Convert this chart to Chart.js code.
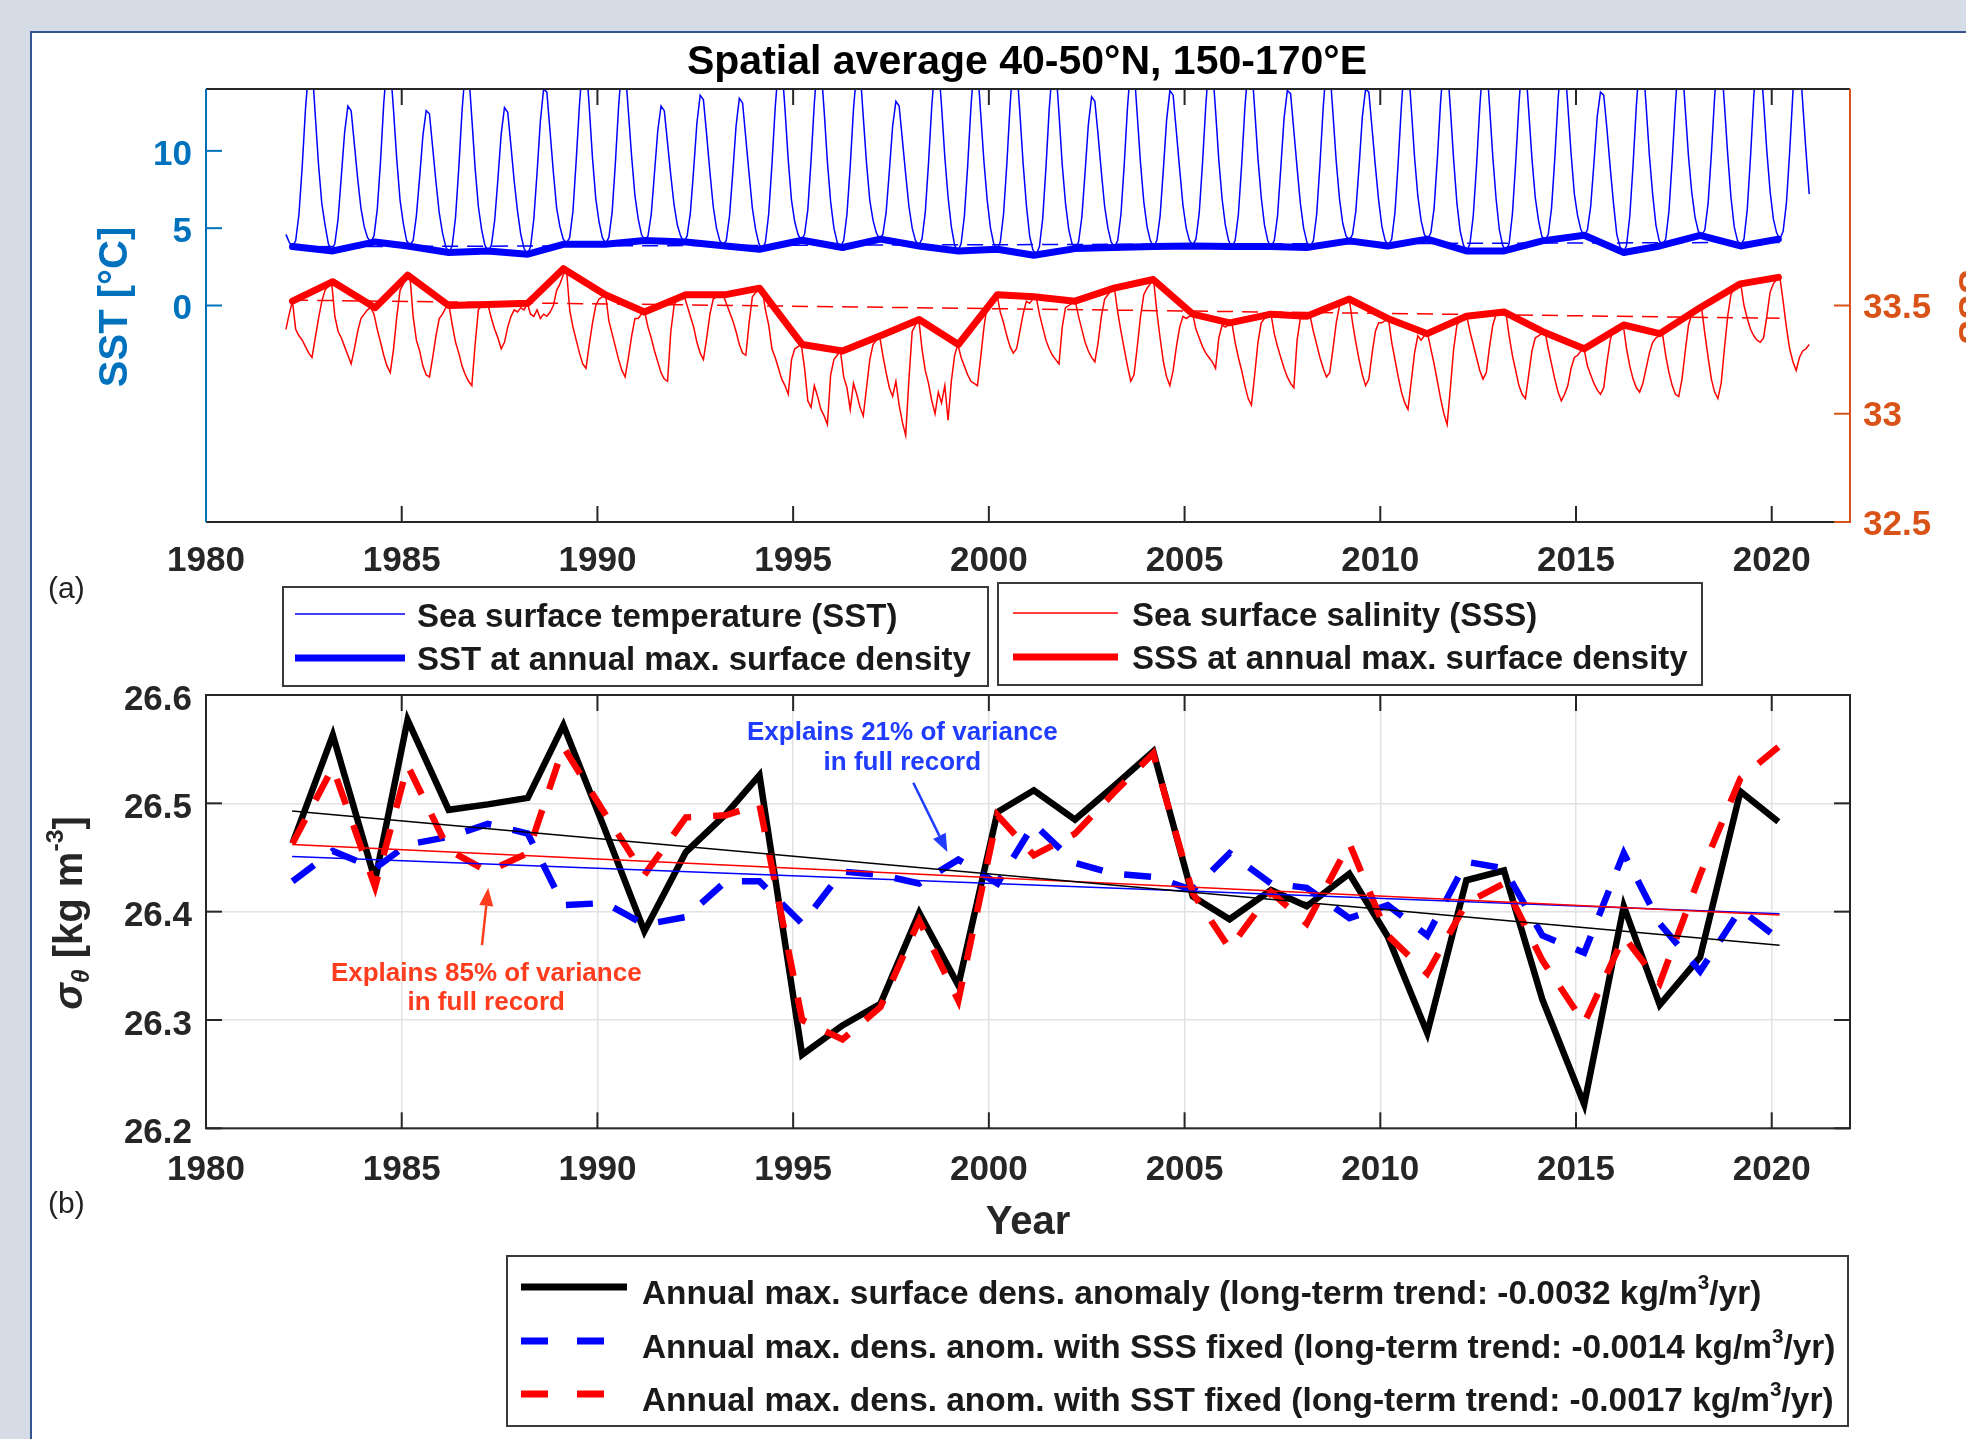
<!DOCTYPE html>
<html>
<head>
<meta charset="utf-8">
<script src="https://cdn.jsdelivr.net/npm/chart.js@4.4.1/dist/chart.umd.min.js"></script>
<style>
  html, body { margin: 0; padding: 0; }
  body {
    width: 1966px; height: 1439px; position: relative; overflow: hidden;
    background: #d5dce6;
    font-family: "Liberation Sans", Arial, Helvetica, sans-serif;
    color: #1a1a1a;
  }
  #sheet {
    position: absolute; left: 30px; top: 31px; width: 1960px; height: 1420px;
    background: #fff; border-left: 2px solid #34558f; border-top: 2px solid #34558f;
  }
  canvas { position: absolute; left: 0; }
  #deco { position: absolute; left: 0; top: 0; }
  .t { position: absolute; white-space: nowrap; line-height: 1; transform: translateY(-50%); }
  .c { transform: translate(-50%, -50%); }
  .rot { position: absolute; white-space: nowrap; line-height: 1; transform: translate(-50%, -50%) rotate(-90deg); }
  .b { font-weight: bold; }
  sup { font-size: 0.62em; vertical-align: 0.75em; line-height: 0; }
  sub { font-size: 0.62em; vertical-align: -0.3em; line-height: 0; }
</style>
</head>
<body>
<div id="sheet"></div>
<canvas id="topChart" width="1966" height="600" style="top:0"></canvas>
<canvas id="botChart" width="1966" height="839" style="top:600px"></canvas>

<svg id="deco" width="1966" height="1439">
  <!-- legend (a), left box -->
  <rect x="283" y="587" width="705" height="99" fill="#fff" stroke="#3a3a3a" stroke-width="2"/>
  <line x1="295" y1="614" x2="405" y2="614" stroke="#0000ff" stroke-width="1.5"/>
  <line x1="295" y1="658" x2="405" y2="658" stroke="#0000ff" stroke-width="7"/>
  <!-- legend (a), right box -->
  <rect x="998" y="583" width="704" height="102" fill="#fff" stroke="#3a3a3a" stroke-width="2"/>
  <line x1="1013" y1="613" x2="1118" y2="613" stroke="#ff0000" stroke-width="1.5"/>
  <line x1="1013" y1="657" x2="1118" y2="657" stroke="#ff0000" stroke-width="7"/>
  <!-- legend (b) -->
  <rect x="507" y="1256" width="1341" height="170" fill="#fff" stroke="#3a3a3a" stroke-width="2"/>
  <line x1="521" y1="1287" x2="627" y2="1287" stroke="#000" stroke-width="7"/>
  <line x1="521" y1="1341" x2="607" y2="1341" stroke="#0000ff" stroke-width="7" stroke-dasharray="27 29"/>
  <line x1="521" y1="1394" x2="607" y2="1394" stroke="#ff0000" stroke-width="7" stroke-dasharray="27 29"/>
</svg>

<div class="t c b" style="left:1027px; top:60px; font-size:41px; color:#000;">Spatial average 40-50°N, 150-170°E</div>
<div class="rot b" style="left:113px; top:307px; font-size:40px; color:#0072BD;">SST [°C]</div>
<div class="rot b" style="left:1973px; top:307px; font-size:38px; color:#D95319;">SSS</div>
<div class="t" style="left:48px; top:588px; font-size:30px; color:#222;">(a)</div>
<div class="t" style="left:48px; top:1203px; font-size:30px; color:#222;">(b)</div>
<div class="t c b" style="left:1028px; top:1220px; font-size:40px; color:#262626;">Year</div>
<div class="rot b" style="left:68px; top:913px; font-size:40px; color:#262626;"><i>σ</i><sub><i>θ</i></sub> [kg m<sup>-3</sup>]</div>

<div class="t b" style="left:417px; top:615px; font-size:33px;">Sea surface temperature (SST)</div>
<div class="t b" style="left:417px; top:658px; font-size:33px;">SST at annual max. surface density</div>
<div class="t b" style="left:1132px; top:614px; font-size:33px;">Sea surface salinity (SSS)</div>
<div class="t b" style="left:1132px; top:657px; font-size:33px;">SSS at annual max. surface density</div>
<div class="t b" style="left:642px; top:1293px; font-size:33.4px;">Annual max. surface dens. anomaly (long-term trend: -0.0032 kg/m<sup>3</sup>/yr)</div>
<div class="t b" style="left:642px; top:1347px; font-size:33.4px;">Annual max. dens. anom. with SSS fixed (long-term trend: -0.0014 kg/m<sup>3</sup>/yr)</div>
<div class="t b" style="left:642px; top:1400px; font-size:33.4px;">Annual max. dens. anom. with SST fixed (long-term trend: -0.0017 kg/m<sup>3</sup>/yr)</div>

<script>
// ---------- data ----------
const firstYear = 1982;
const xTicks = [1980, 1985, 1990, 1995, 2000, 2005, 2010, 2015, 2020];
const sstTicks = [0, 5, 10];
const sssTicks = [32.5, 33, 33.5];
const sigmaTicks = [26.2, 26.3, 26.4, 26.5, 26.6];

// decimal year at which the annual max. surface density occurs
const maxDensTime = [1982.21, 1983.24, 1984.32, 1985.15, 1986.20, 1987.20, 1988.22, 1989.13, 1990.20, 1991.20,
  1992.26, 1993.28, 1994.14, 1995.23, 1996.26, 1997.23, 1998.22, 1999.22, 2000.22, 2001.15,
  2002.20, 2003.20, 2004.20, 2005.21, 2006.15, 2007.21, 2008.12, 2009.21, 2010.19, 2011.20,
  2012.20, 2013.16, 2014.14, 2015.21, 2016.22, 2017.14, 2018.17, 2019.20, 2020.17];

// SST / SSS at annual max. surface density (thick lines, panel a)
const sstAtMax = [3.81, 3.53, 4.11, 3.85, 3.43, 3.53, 3.32, 3.96, 3.96, 4.20,
  4.11, 3.85, 3.64, 4.22, 3.75, 4.29, 3.85, 3.53, 3.64, 3.25,
  3.68, 3.75, 3.81, 3.85, 3.81, 3.81, 3.75, 4.18, 3.85, 4.29,
  3.53, 3.53, 4.18, 4.54, 3.43, 3.85, 4.54, 3.85, 4.29];
const sssAtMax = [33.52, 33.61, 33.49, 33.64, 33.50, 33.505, 33.51, 33.67, 33.55, 33.47,
  33.55, 33.55, 33.58, 33.32, 33.29, 33.36, 33.435, 33.32, 33.55, 33.54,
  33.52, 33.58, 33.62, 33.46, 33.42, 33.46, 33.45, 33.53, 33.44, 33.37,
  33.45, 33.47, 33.38, 33.30, 33.41, 33.37, 33.49, 33.60, 33.63];

// long-term trend end points (dashed, panel a)
const trendYears = [1982.2, 2020.2];
const sstTrend = [3.80, 4.08];
const sssTrend = [33.525, 33.441];

// monthly SST [degC], one row per year (Jan..Dec), 1982-2020
const sstMonthly = [
  [4.6, 4.1, 3.8, 4.2, 5.9, 9.0, 12.7, 15.4, 15.6, 12.3, 9.1, 6.6],
  [5.2, 4.0, 3.5, 4.0, 5.6, 8.4, 11.2, 12.9, 12.6, 10.4, 8.2, 6.3],
  [5.1, 4.4, 4.1, 4.5, 6.2, 9.3, 13.1, 15.7, 15.5, 12.6, 9.4, 6.8],
  [5.3, 4.2, 3.9, 4.2, 5.8, 8.3, 11.0, 12.6, 12.4, 10.2, 8.0, 6.0],
  [4.7, 3.8, 3.4, 3.9, 5.7, 8.9, 12.6, 15.3, 15.2, 12.1, 8.9, 6.4],
  [4.9, 3.9, 3.5, 3.9, 5.5, 8.2, 11.1, 12.8, 12.5, 10.3, 8.0, 6.1],
  [4.6, 3.7, 3.3, 3.8, 5.6, 8.6, 11.9, 14.0, 13.8, 11.2, 8.6, 6.3],
  [5.1, 4.3, 4.0, 4.4, 6.1, 9.4, 13.0, 15.8, 15.9, 12.8, 9.5, 6.9],
  [5.4, 4.4, 4.0, 4.4, 6.0, 9.2, 12.9, 15.6, 15.4, 12.5, 9.6, 7.1],
  [5.6, 4.6, 4.2, 4.5, 5.9, 8.6, 11.3, 12.9, 12.6, 10.5, 8.4, 6.5],
  [5.2, 4.5, 4.1, 4.5, 6.0, 8.8, 11.8, 13.6, 13.3, 11.0, 8.6, 6.4],
  [5.0, 4.2, 3.9, 4.2, 5.8, 8.6, 11.6, 13.4, 13.1, 10.8, 8.5, 6.3],
  [4.9, 4.0, 3.6, 4.1, 5.9, 9.1, 12.8, 15.5, 15.7, 12.7, 9.4, 6.8],
  [5.4, 4.6, 4.2, 4.6, 6.2, 9.4, 13.1, 15.9, 15.6, 12.6, 9.3, 6.7],
  [5.0, 4.1, 3.8, 4.2, 5.9, 9.0, 12.7, 15.2, 15.3, 12.2, 9.2, 6.8],
  [5.5, 4.7, 4.3, 4.6, 6.0, 8.7, 11.6, 13.2, 12.9, 10.7, 8.5, 6.4],
  [5.0, 4.2, 3.9, 4.3, 6.0, 9.2, 12.9, 15.6, 15.8, 12.9, 9.6, 7.0],
  [5.1, 3.9, 3.5, 4.0, 5.8, 9.0, 12.8, 15.7, 15.5, 12.4, 9.3, 6.8],
  [5.0, 4.0, 3.6, 4.1, 5.9, 9.1, 12.9, 15.9, 15.6, 12.5, 9.2, 6.5],
  [4.5, 3.6, 3.3, 3.8, 5.6, 8.9, 12.7, 15.4, 15.5, 12.4, 9.1, 6.6],
  [4.9, 4.0, 3.7, 4.1, 5.7, 8.6, 11.7, 13.5, 13.2, 11.0, 8.6, 6.4],
  [5.0, 4.1, 3.8, 4.2, 5.9, 9.1, 12.8, 15.6, 15.4, 12.3, 9.2, 6.7],
  [5.1, 4.2, 3.8, 4.2, 5.8, 8.8, 12.0, 13.9, 13.6, 11.2, 8.8, 6.5],
  [5.0, 4.2, 3.9, 4.3, 6.0, 9.2, 12.9, 15.8, 15.6, 12.6, 9.4, 6.9],
  [5.2, 4.2, 3.8, 4.2, 5.9, 9.1, 12.8, 15.5, 15.7, 12.7, 9.5, 7.0],
  [5.2, 4.2, 3.8, 4.2, 5.8, 8.9, 12.1, 13.9, 13.7, 11.3, 8.9, 6.6],
  [5.0, 4.1, 3.8, 4.2, 5.9, 9.1, 12.8, 15.6, 15.4, 12.4, 9.3, 6.9],
  [5.3, 4.5, 4.2, 4.6, 6.1, 9.0, 12.2, 14.0, 13.8, 11.4, 9.0, 6.8],
  [5.1, 4.2, 3.9, 4.3, 6.0, 9.3, 13.0, 16.0, 15.8, 12.8, 9.6, 7.1],
  [5.5, 4.6, 4.3, 4.7, 6.3, 9.5, 13.2, 15.9, 15.7, 12.7, 9.4, 6.6],
  [4.8, 3.9, 3.5, 4.0, 5.8, 9.0, 12.8, 15.8, 16.0, 12.9, 9.6, 6.9],
  [4.9, 3.9, 3.5, 4.0, 5.9, 9.2, 13.0, 15.9, 15.7, 12.6, 9.5, 7.0],
  [5.5, 4.5, 4.2, 4.6, 6.3, 9.5, 13.3, 16.1, 15.9, 12.9, 9.8, 7.2],
  [5.8, 4.9, 4.5, 4.9, 6.4, 9.2, 12.2, 13.8, 13.6, 11.4, 8.9, 6.6],
  [4.6, 3.8, 3.4, 3.9, 5.8, 9.1, 12.9, 15.8, 15.9, 12.9, 9.7, 7.2],
  [5.2, 4.2, 3.9, 4.3, 6.1, 9.4, 13.1, 16.0, 15.8, 12.7, 9.6, 7.3],
  [5.7, 4.8, 4.5, 4.9, 6.6, 9.8, 13.5, 16.2, 16.0, 13.0, 9.8, 7.0],
  [5.1, 4.2, 3.9, 4.3, 6.2, 9.6, 13.5, 16.4, 16.2, 13.2, 10.0, 7.4],
  [5.6, 4.7, 4.3, 4.8, 6.6, 9.9, 13.8, 16.5, 16.3, 13.1, 10.0, 7.2]
];

// monthly SSS [psu], one row per year (Jan..Dec), 1982-2020
const sssMonthly = [
  [33.39, 33.46, 33.52, 33.39, 33.36, 33.34, 33.31, 33.28, 33.26, 33.35, 33.44, 33.52],
  [33.57, 33.59, 33.61, 33.45, 33.38, 33.35, 33.31, 33.27, 33.23, 33.30, 33.38, 33.44],
  [33.46, 33.48, 33.49, 33.46, 33.39, 33.33, 33.27, 33.22, 33.19, 33.30, 33.45, 33.57],
  [33.60, 33.63, 33.64, 33.45, 33.34, 33.29, 33.22, 33.18, 33.17, 33.26, 33.36, 33.44],
  [33.46, 33.49, 33.50, 33.41, 33.33, 33.28, 33.22, 33.18, 33.15, 33.13, 33.32, 33.48],
  [33.50, 33.49, 33.50, 33.44, 33.39, 33.35, 33.30, 33.33, 33.40, 33.45, 33.48, 33.47],
  [33.49, 33.48, 33.51, 33.46, 33.45, 33.48, 33.44, 33.46, 33.45, 33.47, 33.50, 33.57],
  [33.60, 33.64, 33.67, 33.48, 33.40, 33.34, 33.28, 33.23, 33.21, 33.32, 33.42, 33.50],
  [33.53, 33.54, 33.55, 33.43, 33.37, 33.31, 33.25, 33.20, 33.17, 33.26, 33.36, 33.44],
  [33.44, 33.46, 33.47, 33.40, 33.35, 33.29, 33.24, 33.19, 33.16, 33.15, 33.38, 33.50],
  [33.53, 33.54, 33.55, 33.50, 33.45, 33.40, 33.33, 33.28, 33.25, 33.35, 33.46, 33.53],
  [33.54, 33.55, 33.55, 33.51, 33.47, 33.43, 33.38, 33.32, 33.28, 33.27, 33.42, 33.54],
  [33.56, 33.57, 33.58, 33.48, 33.41, 33.30, 33.26, 33.21, 33.16, 33.13, 33.09, 33.25],
  [33.30, 33.31, 33.32, 33.21, 33.06, 33.03, 33.13, 33.08, 33.02, 32.99, 32.95, 33.18],
  [33.25, 33.27, 33.29, 33.17, 33.12, 33.02, 33.14, 33.09, 33.03, 32.99, 33.12, 33.25],
  [33.32, 33.34, 33.36, 33.27, 33.19, 33.12, 33.08, 33.15, 33.04, 32.96, 32.90, 33.16],
  [33.38, 33.41, 33.44, 33.30, 33.20, 33.14, 33.06, 33.00, 33.10, 33.05, 33.13, 32.97],
  [33.15, 33.27, 33.32, 33.26, 33.22, 33.18, 33.15, 33.14, 33.13, 33.26, 33.40, 33.50],
  [33.53, 33.54, 33.55, 33.47, 33.42, 33.36, 33.31, 33.28, 33.30, 33.38, 33.46, 33.52],
  [33.51, 33.53, 33.54, 33.46, 33.40, 33.34, 33.30, 33.27, 33.25, 33.23, 33.40, 33.49],
  [33.50, 33.51, 33.52, 33.45, 33.39, 33.33, 33.29, 33.26, 33.24, 33.33, 33.45, 33.53],
  [33.55, 33.57, 33.58, 33.47, 33.38, 33.30, 33.22, 33.15, 33.18, 33.31, 33.45, 33.55],
  [33.58, 33.60, 33.62, 33.47, 33.35, 33.24, 33.17, 33.13, 33.20, 33.31, 33.40, 33.45],
  [33.44, 33.45, 33.46, 33.39, 33.35, 33.31, 33.28, 33.26, 33.24, 33.21, 33.35, 33.41],
  [33.40, 33.41, 33.42, 33.33, 33.26, 33.20, 33.13, 33.07, 33.04, 33.18, 33.33, 33.42],
  [33.44, 33.45, 33.46, 33.37, 33.31, 33.26, 33.21, 33.17, 33.14, 33.12, 33.34, 33.44],
  [33.44, 33.45, 33.45, 33.38, 33.32, 33.26, 33.21, 33.17, 33.19, 33.30, 33.42, 33.50],
  [33.51, 33.52, 33.53, 33.42, 33.33, 33.25, 33.18, 33.13, 33.16, 33.28, 33.38, 33.42],
  [33.42, 33.43, 33.44, 33.33, 33.25, 33.17, 33.10, 33.05, 33.02, 33.15, 33.28, 33.36],
  [33.34, 33.36, 33.37, 33.30, 33.23, 33.15, 33.07, 33.00, 32.95, 33.12, 33.30, 33.41],
  [33.43, 33.44, 33.45, 33.38, 33.32, 33.26, 33.20, 33.16, 33.19, 33.31, 33.41, 33.46],
  [33.46, 33.47, 33.47, 33.36, 33.27, 33.20, 33.13, 33.09, 33.07, 33.18, 33.29, 33.35],
  [33.36, 33.37, 33.38, 33.30, 33.23, 33.16, 33.10, 33.06, 33.09, 33.13, 33.21, 33.26],
  [33.27, 33.29, 33.30, 33.22, 33.18, 33.14, 33.11, 33.09, 33.12, 33.24, 33.34, 33.39],
  [33.39, 33.40, 33.41, 33.30, 33.22, 33.16, 33.12, 33.10, 33.14, 33.21, 33.28, 33.33],
  [33.35, 33.36, 33.37, 33.27, 33.19, 33.13, 33.09, 33.08, 33.16, 33.29, 33.41, 33.46],
  [33.47, 33.48, 33.49, 33.37, 33.26, 33.16, 33.10, 33.07, 33.14, 33.30, 33.45, 33.55],
  [33.58, 33.59, 33.60, 33.50, 33.44, 33.39, 33.36, 33.34, 33.33, 33.35, 33.45, 33.56],
  [33.60, 33.62, 33.63, 33.52, 33.40, 33.30, 33.24, 33.20, 33.26, 33.29, 33.30, 33.32]
];

// panel b: annual max. surface density anomaly [kg m-3]
const sigmaAnom = [26.463, 26.563, 26.429, 26.577, 26.494, 26.499, 26.505, 26.572, 26.475, 26.382,
  26.455, 26.490, 26.526, 26.268, 26.295, 26.315, 26.399, 26.332, 26.492, 26.512,
  26.485, 26.516, 26.548, 26.414, 26.393, 26.420, 26.405, 26.435, 26.377, 26.288,
  26.429, 26.438, 26.319, 26.222, 26.405, 26.314, 26.358, 26.511, 26.483];
const sigmaSSSFixed = [26.428, 26.456, 26.440, 26.462, 26.469, 26.481, 26.472, 26.406, 26.408, 26.388,
  26.395, 26.428, 26.428, 26.389, 26.437, 26.434, 26.426, 26.448, 26.426, 26.481,
  26.445, 26.435, 26.432, 26.420, 26.454, 26.426, 26.422, 26.394, 26.406, 26.378,
  26.446, 26.440, 26.378, 26.362, 26.454, 26.389, 26.345, 26.402, 26.375];
const sigmaSSTFixed = [26.463, 26.533, 26.423, 26.535, 26.457, 26.437, 26.454, 26.552, 26.490, 26.434,
  26.487, 26.489, 26.499, 26.300, 26.282, 26.312, 26.392, 26.318, 26.489, 26.452,
  26.472, 26.510, 26.546, 26.417, 26.366, 26.418, 26.389, 26.463, 26.378, 26.343,
  26.408, 26.426, 26.355, 26.297, 26.377, 26.334, 26.434, 26.523, 26.552];
const sigmaTrend = [26.493, 26.369];
const sssFixedTrend = [26.451, 26.398];
const sstFixedTrend = [26.462, 26.397];

// ---------- helpers ----------
const FONT = '"Liberation Sans", Arial, Helvetica, sans-serif';
const DARK = '#262626';
const SST_AXIS = '#0072BD';
const SSS_AXIS = '#D95319';
const tickFont = { family: FONT, size: 35, weight: 'bold' };

const pts = (xs, ys) => xs.map((x, i) => ({ x, y: ys[i] }));
const monthly = rows => rows.flatMap((row, i) => row.map((v, m) => ({ x: firstYear + i + (m + 0.5) / 12, y: v })));
const fixTicks = list => s => { s.ticks = list.map(v => ({ value: v })); };
const label = v => String(v);

function seg(ctx, x1, y1, x2, y2, color) {
  ctx.strokeStyle = color;
  ctx.beginPath();
  ctx.moveTo(x1, y1);
  ctx.lineTo(x2, y2);
  ctx.stroke();
}

const TL = 16; // tick length, drawn inward like MATLAB

const topFrame = {
  id: 'topFrame',
  afterDatasetsDraw(chart) {
    const { ctx, chartArea: a, scales } = chart;
    ctx.save();
    ctx.lineWidth = 2;
    seg(ctx, a.left, a.top, a.right, a.top, DARK);
    seg(ctx, a.left, a.bottom, a.right, a.bottom, DARK);
    xTicks.forEach(v => {
      const px = scales.x.getPixelForValue(v);
      seg(ctx, px, a.bottom, px, a.bottom - TL, DARK);
      seg(ctx, px, a.top, px, a.top + TL, DARK);
    });
    seg(ctx, a.left, a.top, a.left, a.bottom, SST_AXIS);
    sstTicks.forEach(v => {
      const py = scales.ySST.getPixelForValue(v);
      seg(ctx, a.left, py, a.left + TL, py, SST_AXIS);
    });
    seg(ctx, a.right, a.top, a.right, a.bottom + 1, SSS_AXIS);
    sssTicks.forEach(v => {
      const py = scales.ySSS.getPixelForValue(v);
      seg(ctx, a.right, py, a.right - TL, py, SSS_AXIS);
    });
    ctx.restore();
  }
};

const botFrame = {
  id: 'botFrame',
  afterDatasetsDraw(chart) {
    const { ctx, chartArea: a, scales } = chart;
    ctx.save();
    ctx.lineWidth = 2;
    ctx.strokeStyle = DARK;
    ctx.strokeRect(a.left, a.top, a.right - a.left, a.bottom - a.top);
    xTicks.forEach(v => {
      const px = scales.x.getPixelForValue(v);
      seg(ctx, px, a.bottom, px, a.bottom - TL, DARK);
      seg(ctx, px, a.top, px, a.top + TL, DARK);
    });
    sigmaTicks.forEach(v => {
      const py = scales.y.getPixelForValue(v);
      seg(ctx, a.left, py, a.left + TL, py, DARK);
      seg(ctx, a.right, py, a.right - TL, py, DARK);
    });
    ctx.restore();
  }
};

// text notes with arrows, placed in data coordinates
const notes = [
  { color: '#ff3c1e', x: 1987.16, lines: [[26.343, 'Explains 85% of variance'], [26.316, 'in full record']],
    arrow: [1987.05, 26.369, 1987.21, 26.422] },
  { color: '#1f3cff', x: 1997.79, lines: [[26.565, 'Explains 21% of variance'], [26.537, 'in full record']],
    arrow: [1998.07, 26.519, 1998.94, 26.455] }
];

const notePlugin = {
  id: 'notes',
  afterDatasetsDraw(chart) {
    const { ctx, scales: { x, y } } = chart;
    ctx.save();
    ctx.font = 'bold 26px ' + FONT;
    ctx.textAlign = 'center';
    ctx.textBaseline = 'middle';
    notes.forEach(n => {
      ctx.fillStyle = n.color;
      n.lines.forEach(([v, s]) => ctx.fillText(s, x.getPixelForValue(n.x), y.getPixelForValue(v)));
      const x1 = x.getPixelForValue(n.arrow[0]), y1 = y.getPixelForValue(n.arrow[1]);
      const x2 = x.getPixelForValue(n.arrow[2]), y2 = y.getPixelForValue(n.arrow[3]);
      const ang = Math.atan2(y2 - y1, x2 - x1);
      const head = 18, half = 7;
      const bx = x2 - head * Math.cos(ang), by = y2 - head * Math.sin(ang);
      ctx.lineWidth = 2.5;
      seg(ctx, x1, y1, bx, by, n.color);
      ctx.beginPath();
      ctx.moveTo(x2, y2);
      ctx.lineTo(bx + half * Math.sin(ang), by - half * Math.cos(ang));
      ctx.lineTo(bx - half * Math.sin(ang), by + half * Math.cos(ang));
      ctx.closePath();
      ctx.fill();
    });
    ctx.restore();
  }
};

const baseOptions = {
  responsive: false,
  animation: false,
  devicePixelRatio: 1,
  events: [],
  elements: { point: { radius: 0 }, line: { tension: 0 } },
  plugins: { legend: { display: false }, tooltip: { enabled: false }, title: { display: false } }
};

// ---------- panel (a) ----------
new Chart(document.getElementById('topChart'), {
  type: 'line',
  data: {
    datasets: [
      { data: pts(maxDensTime, sssAtMax), yAxisID: 'ySSS', borderColor: '#ff0000', borderWidth: 7, borderJoinStyle: 'round', borderCapStyle: 'round', order: 1 },
      { data: pts(maxDensTime, sstAtMax), yAxisID: 'ySST', borderColor: '#0000ff', borderWidth: 7, borderJoinStyle: 'round', borderCapStyle: 'round', order: 2 },
      { data: monthly(sssMonthly), yAxisID: 'ySSS', borderColor: '#ff0000', borderWidth: 1.5, order: 3 },
      { data: monthly(sstMonthly), yAxisID: 'ySST', borderColor: '#0000ff', borderWidth: 1.5, order: 4 },
      { data: pts(trendYears, sssTrend), yAxisID: 'ySSS', borderColor: '#ff0000', borderWidth: 1.5, borderDash: [16, 9], order: 5 },
      { data: pts(trendYears, sstTrend), yAxisID: 'ySST', borderColor: '#0000ff', borderWidth: 1.5, borderDash: [16, 9], order: 6 }
    ]
  },
  options: {
    ...baseOptions,
    layout: { padding: { top: 89, left: 0, right: 0, bottom: 0 } },
    scales: {
      x: {
        type: 'linear', position: 'bottom', min: 1980, max: 2022,
        afterBuildTicks: fixTicks(xTicks), afterFit: s => { s.height = 78; },
        grid: { display: false, drawTicks: false }, border: { display: false },
        ticks: { font: tickFont, color: DARK, padding: 18, maxRotation: 0, autoSkip: false, callback: label }
      },
      ySST: {
        type: 'linear', position: 'left', min: -14, max: 14,
        afterBuildTicks: fixTicks(sstTicks), afterFit: s => { s.width = 206; },
        grid: { display: false, drawTicks: false }, border: { display: false },
        ticks: { font: tickFont, color: SST_AXIS, padding: 14, labelOffset: 4, callback: label }
      },
      ySSS: {
        type: 'linear', position: 'right', min: 32.5, max: 34.5,
        afterBuildTicks: fixTicks(sssTicks), afterFit: s => { s.width = 116; },
        grid: { display: false, drawTicks: false }, border: { display: false },
        ticks: { font: tickFont, color: SSS_AXIS, padding: 13, labelOffset: 3, callback: label }
      }
    }
  },
  plugins: [topFrame]
});

// ---------- panel (b) ----------
new Chart(document.getElementById('botChart'), {
  type: 'line',
  data: {
    datasets: [
      { data: pts(trendYears, sigmaTrend), borderColor: '#000000', borderWidth: 1.5, order: 0 },
      { data: pts(trendYears, sstFixedTrend), borderColor: '#ff0000', borderWidth: 1.5, order: 0 },
      { data: pts(trendYears, sssFixedTrend), borderColor: '#0000ff', borderWidth: 1.5, order: 0 },
      { data: pts(maxDensTime, sigmaSSTFixed), borderColor: '#ff0000', borderWidth: 6.5, borderDash: [27, 22], order: 1 },
      { data: pts(maxDensTime, sigmaSSSFixed), borderColor: '#0000ff', borderWidth: 6.5, borderDash: [27, 22], order: 2 },
      { data: pts(maxDensTime, sigmaAnom), borderColor: '#000000', borderWidth: 6.5, borderJoinStyle: 'miter', order: 3 }
    ]
  },
  options: {
    ...baseOptions,
    layout: { padding: { top: 95, left: 0, right: 116, bottom: 0 } },
    scales: {
      x: {
        type: 'linear', position: 'bottom', min: 1980, max: 2022,
        afterBuildTicks: fixTicks(xTicks), afterFit: s => { s.height = 310.7; },
        grid: { color: '#e2e2e2', lineWidth: 1.5, drawTicks: false }, border: { display: false },
        ticks: { font: tickFont, color: DARK, padding: 21, maxRotation: 0, autoSkip: false, callback: label }
      },
      y: {
        type: 'linear', position: 'left', min: 26.2, max: 26.6,
        afterBuildTicks: fixTicks(sigmaTicks), afterFit: s => { s.width = 206; },
        grid: { color: '#e2e2e2', lineWidth: 1.5, drawTicks: false }, border: { display: false },
        ticks: { font: tickFont, color: DARK, padding: 14, labelOffset: 5, callback: label }
      }
    }
  },
  plugins: [botFrame, notePlugin]
});
</script>
</body>
</html>
